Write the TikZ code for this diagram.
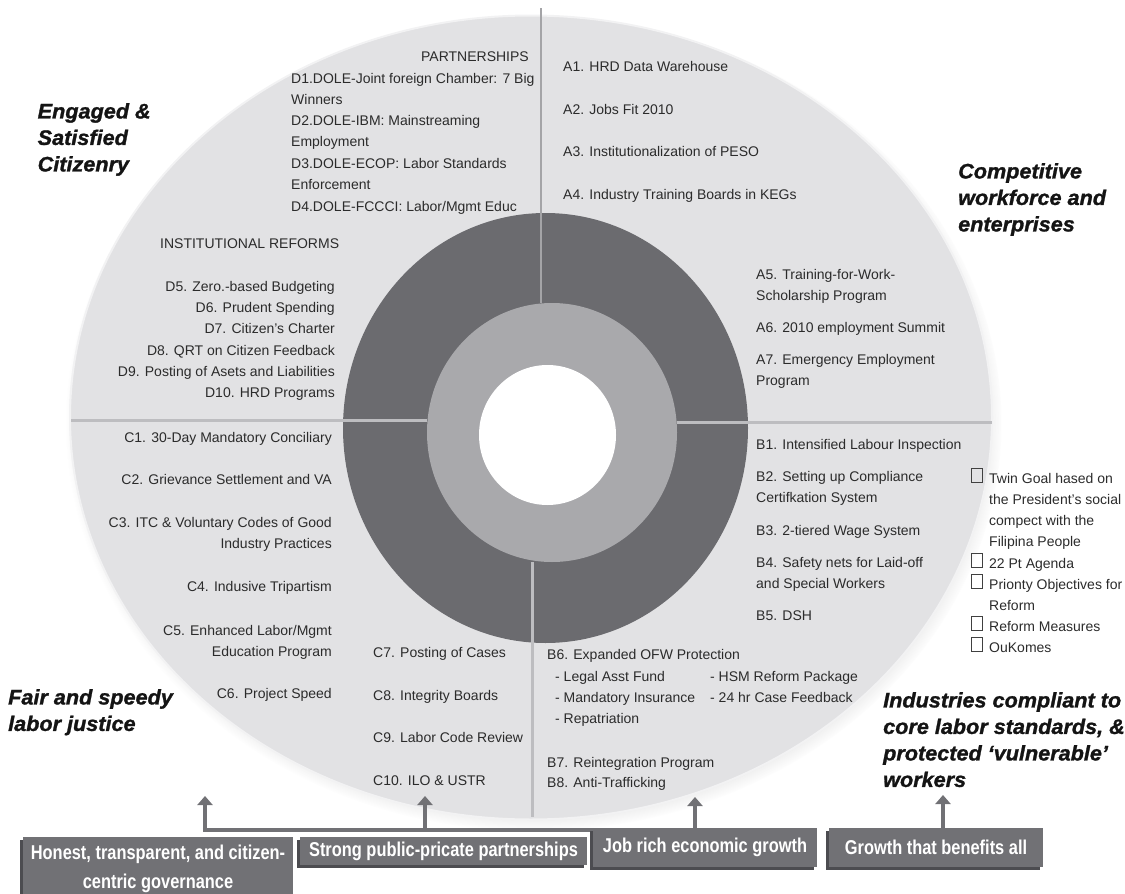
\documentclass[tikz,border=0pt]{standalone}
\usepackage{fontspec}
\setmainfont{Liberation Sans}
\newfontfamily\condfont[FakeStretch=0.82]{Liberation Sans}
\newfontfamily\goalfont[FakeBold=1.3,FakeStretch=1.03]{Liberation Sans}
\usetikzlibrary{arrows.meta,shadows}
\definecolor{outerfill}{HTML}{E2E2E4}
\definecolor{outerrim}{HTML}{F2F2F3}
\definecolor{darkring}{HTML}{6B6B6F}
\definecolor{midring}{HTML}{A9A9AC}
\definecolor{divider}{HTML}{BDBDC0}
\definecolor{topline}{HTML}{A4A4A7}
\definecolor{txt}{HTML}{2B2B2B}
\definecolor{boxfill}{HTML}{717175}
\definecolor{boxshadow}{HTML}{4C4C50}
\begin{document}
\begin{tikzpicture}[x=1pt,y=-1pt,
  item/.style={inner sep=0pt, text=txt, font=\fontsize{14}{21}\selectfont},
  itemL/.style={item, anchor=north west, align=left},
  itemR/.style={item, anchor=north east, align=right},
  goal/.style={inner sep=0pt, anchor=north west, align=left, text=black!92,
    font=\goalfont\bfseries\itshape\fontsize{21}{26.5}\selectfont},
  basebox/.style={rectangle, fill=boxfill, text=white, inner sep=0pt, align=center,
    font=\condfont\bfseries\fontsize{20}{29}\selectfont,
    drop shadow={shadow xshift=-3pt, shadow yshift=-3pt, fill=boxshadow, opacity=1}},
  uparrow/.style={draw=boxfill, line width=4.5pt, -{Triangle[width=15pt,length=9pt]}},
  divline/.style={draw=divider, line width=3pt},
  chk/.style={draw=black!75, line width=0.8pt, minimum width=11pt, minimum height=14pt, inner sep=0pt},
]
\useasboundingbox (0,0) rectangle (1125,894);

% outer ellipse with shadow
\path[fill=outerfill, draw=outerrim, line width=2pt,
  circular drop shadow={shadow xshift=3pt, shadow yshift=-5pt, shadow scale=1.015, opacity=0.55}]
  (531,417.5) ellipse [x radius=461, y radius=402];

% dark ring
\fill[darkring] (545.5,428) ellipse [x radius=202.5, y radius=215];

% dividers
\coordinate (vtop) at (541,8);
\coordinate (vtopin) at (541,303);
\coordinate (vbotin) at (532,562);
\coordinate (vbot) at (532,817);
\coordinate (hlout) at (71,420);
\coordinate (hlin) at (427,420);
\coordinate (hrin) at (677,422);
\coordinate (hrout) at (992,422);
\draw[draw=topline, line width=2.5pt] (vtop) -- (vtopin);
\draw[divline] (vbotin) -- (vbot);
\draw[divline] (hlout) -- (hlin);
\draw[divline] (hrin) -- (hrout);

% middle ring and centre
\fill[midring] (552,432.5) ellipse [x radius=125, y radius=129.5];
\fill[white] (547.5,435) ellipse [x radius=68.5, y radius=70];

% ---------- quadrant D ----------
\node[itemR] (part) at (529,51.5) {PARTNERSHIPS};
\node[itemL] (d1) at (291,73.5) {D1.DOLE-Joint foreign Chamber: 7 Big\\Winners};
\node[itemL] (d2) at (291,115.5) {D2.DOLE-IBM: Mainstreaming\\Employment};
\node[itemL] (d3) at (291,158.5) {D3.DOLE-ECOP: Labor Standards\\Enforcement};
\node[itemL] (d4) at (291,201.5) {D4.DOLE-FCCCI: Labor/Mgmt Educ};
\node[itemL] (inst) at (160,238.5) {INSTITUTIONAL REFORMS};
\node[itemR] (d5) at (335,281.5) {D5. Zero.-based Budgeting};
\node[itemR] (d6) at (335,302.5) {D6. Prudent Spending};
\node[itemR] (d7) at (335,323.5) {D7. Citizen’s Charter};
\node[itemR] (d8) at (335,345.5) {D8. QRT on Citizen Feedback};
\node[itemR] (d9) at (335,366.5) {D9. Posting of Asets and Liabilities};
\node[itemR] (d10) at (335,387.5) {D10. HRD Programs};

% ---------- quadrant C ----------
\node[itemR] (c1) at (332,432.5) {C1. 30-Day Mandatory Conciliary};
\node[itemR] (c2) at (332,474.5) {C2. Grievance Settlement and VA};
\node[itemR] (c3) at (332,517.5) {C3. ITC \& Voluntary Codes of Good\\Industry Practices};
\node[itemR] (c4) at (332,581.5) {C4. Indusive Tripartism};
\node[itemR] (c5) at (332,625.5) {C5. Enhanced Labor/Mgmt\\Education Program};
\node[itemR] (c6) at (332,688.5) {C6. Project Speed};
\node[itemL] (c7) at (373,647.5) {C7. Posting of Cases};
\node[itemL] (c8) at (373,690.5) {C8. Integrity Boards};
\node[itemL] (c9) at (373,732.5) {C9. Labor Code Review};
\node[itemL] (c10) at (373,775.5) {C10. ILO \& USTR};

% ---------- quadrant A ----------
\node[itemL] (a1) at (563,61.5) {A1. HRD Data Warehouse};
\node[itemL] (a2) at (563,104.5) {A2. Jobs Fit 2010};
\node[itemL] (a3) at (563,146.5) {A3. Institutionalization of PESO};
\node[itemL] (a4) at (563,189.5) {A4. Industry Training Boards in KEGs};
\node[itemL] (a5) at (756,269.5) {A5. Training-for-Work-\\Scholarship Program};
\node[itemL] (a6) at (756,322.5) {A6. 2010 employment Summit};
\node[itemL] (a7) at (756,354.5) {A7. Emergency Employment\\Program};

% ---------- quadrant B ----------
\node[itemL] (b1) at (756,439.5) {B1. Intensified Labour Inspection};
\node[itemL] (b2) at (756,471.5) {B2. Setting up Compliance\\Certifkation System};
\node[itemL] (b3) at (756,525.5) {B3. 2-tiered Wage System};
\node[itemL] (b4) at (756,557.5) {B4. Safety nets for Laid-off\\and Special Workers};
\node[itemL] (b5) at (756,610.5) {B5. DSH};
\node[itemL] (b6) at (547,649.5) {B6. Expanded OFW Protection};
\node[itemL] (b6a) at (555,671.5) {- Legal Asst Fund};
\node[itemL] (b6b) at (555,692.5) {- Mandatory Insurance};
\node[itemL] (b6c) at (555,713.5) {- Repatriation};
\node[itemL] (b6d) at (710,671.5) {- HSM Reform Package};
\node[itemL] (b6e) at (710,692.5) {- 24 hr Case Feedback};
\node[itemL] (b7) at (547,757.5) {B7. Reintegration Program};
\node[itemL] (b8) at (547,777.5) {B8. Anti-Trafficking};

% ---------- legend ----------
\node[chk] (k1) at (976.5,475) {};
\node[chk] (k2) at (976.5,560) {};
\node[chk] (k3) at (976.5,581) {};
\node[chk] (k4) at (976.5,623) {};
\node[chk] (k5) at (976.5,644) {};
\node[itemL] (l1) at (989,473.5) {Twin Goal hased on\\the President’s social\\compect with the\\Filipina People};
\node[itemL] (l2) at (989,558.5) {22 Pt Agenda};
\node[itemL] (l3) at (989,579.5) {Prionty Objectives for\\Reform};
\node[itemL] (l4) at (989,621.5) {Reform Measures};
\node[itemL] (l5) at (989,642.5) {OuKomes};

% ---------- goals ----------
\node[goal] (gD) at (37.5,103) {Engaged \&\\Satisfied\\Citizenry};
\node[goal] (gA) at (958,163) {Competitive\\workforce and\\enterprises};
\node[goal] (gC) at (8,689) {Fair and speedy\\labor justice};
\node[goal] (gB) at (883,692) {Industries compliant to\\core labor standards, \&\\protected ‘vulnerable’\\workers};

% ---------- arrows ----------
\coordinate (r1) at (205,830);
\coordinate (r2) at (425,830);
\coordinate (r3) at (695,830);
\coordinate (r4) at (943,830);
\coordinate (t1) at (205,796);
\coordinate (t2) at (425,796);
\coordinate (t3) at (695,797);
\coordinate (t4) at (943,795);
\draw[draw=boxfill, line width=4.5pt] ([xshift=-2.25pt]r1) -- (r3);
\draw[uparrow] (r1) -- (t1);
\draw[uparrow] (r2) -- (t2);
\draw[uparrow] (r3) -- (t3);
\draw[uparrow] (r4) -- (t4);

% ---------- base boxes ----------
\node[basebox, minimum width=270pt, minimum height=63pt] (s1) at (158,868.5) {Honest, transparent, and citizen-\\centric governance};
\node[basebox, minimum width=287pt, minimum height=28pt] (s2) at (443.5,851) {Strong public-pricate partnerships};
\node[basebox, minimum width=224pt, minimum height=39pt] (s3) at (705,847.5) {Job rich economic growth};
\node[basebox, minimum width=214pt, minimum height=39pt] (s4) at (936,847.5) {Growth that benefits all};
\end{tikzpicture}
\end{document}
